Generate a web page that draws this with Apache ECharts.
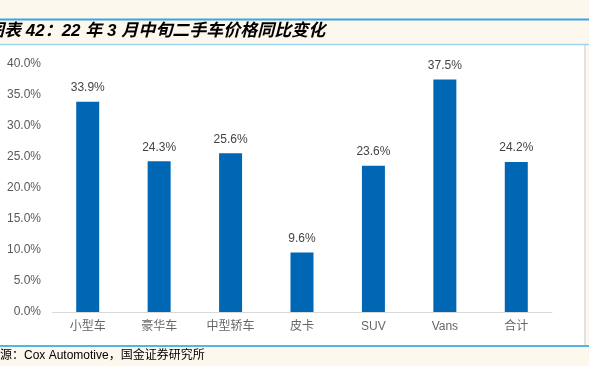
<!DOCTYPE html>
<html style="height: 100%">
<head>
<meta charset="utf-8">
</head>
<body style="height: 100%; margin: 0">
<div id="container" style="width: 589px; height: 366px;"></div>
<script type="text/javascript" src="https://cdn.jsdelivr.net/npm/echarts@6/dist/echarts.min.js"></script>
<script type="text/javascript">
var categories = ['小型车', '豪华车', '中型轿车', '皮卡', 'SUV', 'Vans', '合计'];
var values = [33.9, 24.3, 25.6, 9.6, 23.6, 37.5, 24.2];
var yTicks = [0, 5, 10, 15, 20, 25, 30, 35, 40];

var font = '"Liberation Sans", "Noto Sans CJK SC", sans-serif';
var chart = echarts.init(document.getElementById('container'));

var option = {
    backgroundColor: '#fdf8ee',
    animation: false,
    textStyle: { fontFamily: font },
    graphic: [
        // white panel behind the plot
        { type: 'rect', z: -10, shape: { x: 0, y: 45, width: 584, height: 300 },
          style: { fill: '#ffffff', stroke: null } },
        { type: 'line', z: -9, shape: { x1: 585, y1: 45, x2: 585, y2: 345 },
          style: { stroke: '#e2e2e2', lineWidth: 2 } },
        { type: 'line', shape: { x1: 0, y1: 19.5, x2: 589, y2: 19.5 },
          style: { stroke: '#3aa6e2', lineWidth: 2 } },
        { type: 'line', shape: { x1: 0, y1: 44.5, x2: 589, y2: 44.5 },
          style: { stroke: '#9fd4f2', lineWidth: 1.5 } },
        { type: 'line', shape: { x1: 0, y1: 346, x2: 589, y2: 346 },
          style: { stroke: '#1a9fe0', lineWidth: 1.5 } },
        { type: 'text', left: -13, top: 23,
          style: { text: '图表 42：22 年 3 月中旬二手车价格同比变化', fill: '#000',
                   font: 'italic bold 17px ' + font } },
        { type: 'text', left: -12, top: 350,
          style: { text: '来源：Cox Automotive，国金证券研究所', fill: '#000',
                   font: '12px ' + font } }
    ],
    grid: { left: 52, right: 37, top: 64, bottom: 54 },
    xAxis: {
        type: 'category',
        data: categories,
        axisLine: { lineStyle: { color: '#d9d9d9' } },
        axisTick: { inside: true, length: 3, lineStyle: { color: '#d9d9d9' } },
        axisLabel: { color: '#666', fontSize: 12, margin: 9 }
    },
    yAxis: {
        type: 'value',
        min: yTicks[0],
        max: yTicks[yTicks.length - 1],
        interval: 5,
        axisLine: { show: false },
        axisTick: { show: false },
        splitLine: { show: false },
        axisLabel: {
            color: '#595959', fontSize: 12, margin: 11,
            formatter: function (v) { return v.toFixed(1) + '%'; }
        }
    },
    series: [{
        type: 'bar',
        data: values,
        barWidth: 23,
        itemStyle: { color: '#0067b5' },
        label: {
            show: true, position: 'top', distance: 8,
            color: '#444', fontSize: 12,
            formatter: function (p) { return p.value.toFixed(1) + '%'; }
        }
    }]
};

chart.setOption(option);
</script>
</body>
</html>
